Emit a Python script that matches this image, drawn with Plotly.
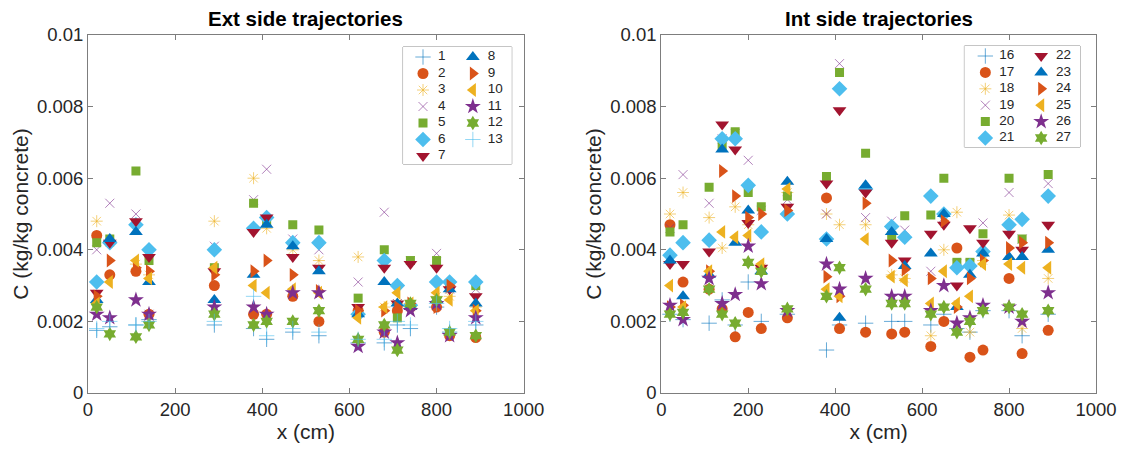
import plotly.graph_objects as go

# ---------------------------------------------------------------- data
# measurement positions along the element (cm)
x_ext = [20, 50, 110, 140, 290, 380, 410, 470, 530, 620, 680, 710, 740, 800, 830, 890]
x_int = [20, 50, 110, 140, 170, 200, 230, 290, 380, 410, 470, 530, 560, 620, 650,
         680, 710, 740, 800, 830, 890]

# chloride content, kg/kg concrete -- exterior side trajectories 1..13
ext_1 = [0.00175, 0.00185, 0.0019, 0.00205, 0.0019, 0.0018, 0.0015, 0.0017, 0.0016, 0.0014, 0.0014, 0.0019, 0.0018, 0.0024, 0.0017, 0.0019]
ext_2 = [0.0044, 0.0033, 0.0034, 0.0022, 0.0030, 0.0022, 0.0022, 0.0027, 0.0020, 0.0023, 0.0017, 0.0023, 0.0024, 0.0024, 0.0016, 0.00155]
ext_3 = [0.0048, 0.0042, 0.0036, 0.0033, 0.0048, 0.0060, 0.0046, 0.0040, 0.0037, 0.0038, 0.0024, 0.0025, 0.0024, 0.0027, 0.0027, 0.0024]
ext_4 = [0.0040, 0.0053, 0.0050, 0.0022, 0.0041, 0.0054, 0.00625, 0.0043, 0.0040, 0.0031, 0.00505, 0.0025, 0.0037, 0.0039, 0.0029, 0.0029]
ext_5 = [0.0042, 0.0043, 0.0062, 0.0037, 0.0035, 0.0053, 0.0048, 0.0047, 0.00455, 0.00265, 0.0040, 0.0021, 0.0037, 0.0037, 0.00305, 0.0030]
ext_6 = [0.0031, 0.0042, 0.0047, 0.0040, 0.0040, 0.0046, 0.0049, 0.0042, 0.0042, 0.0022, 0.0037, 0.0030, 0.00245, 0.0031, 0.0031, 0.0031]
ext_7 = [0.0028, 0.0042, 0.0048, 0.0038, 0.0034, 0.0045, 0.0049, 0.0038, 0.0035, 0.0024, 0.0035, 0.0025, 0.0036, 0.0035, 0.0029, 0.0027]
ext_8 = [0.0026, 0.0043, 0.0045, 0.0031, 0.0026, 0.0033, 0.0047, 0.0041, 0.0034, 0.0022, 0.0031, 0.0025, 0.0024, 0.0026, 0.0029, 0.0025]
ext_9 = [0.0027, 0.0037, 0.0035, 0.0034, 0.0033, 0.0034, 0.0037, 0.0033, 0.00285, 0.0023, 0.0023, 0.0024, 0.0025, 0.0024, 0.0030, 0.0023]
ext_10 = [0.0025, 0.0031, 0.0037, 0.0032, 0.0035, 0.0030, 0.0028, 0.0029, 0.0028, 0.0021, 0.0024, 0.0028, 0.0025, 0.0028, 0.0026, 0.0023]
ext_11 = [0.0022, 0.0021, 0.0026, 0.0022, 0.0024, 0.0024, 0.0022, 0.0028, 0.0028, 0.0013, 0.0017, 0.0014, 0.0023, 0.0025, 0.0016, 0.0021]
ext_12 = [0.0024, 0.00165, 0.00157, 0.0019, 0.0022, 0.0019, 0.0020, 0.0020, 0.0023, 0.0015, 0.0019, 0.0012, 0.0025, 0.0026, 0.0017, 0.0016]
ext_13 = [0.0018, 0.0020, 0.0019, 0.0020, 0.0020, 0.0027, 0.0016, 0.0018, 0.0017, 0.0015, 0.0015, 0.0020, 0.0019, 0.0025, 0.0018, 0.0020]

# chloride content, kg/kg concrete -- interior side trajectories 16..27
int_16 = [0.0022, 0.00205, 0.00195, 0.0026, 0.0019, 0.0031, 0.0020, 0.0022, 0.0012, 0.0019, 0.00195, 0.0020, 0.0020, 0.0019, 0.0022, 0.0018, 0.0017, 0.0023, 0.0023, 0.0016, 0.0022]
int_17 = [0.0047, 0.0031, 0.0029, 0.00235, 0.00157, 0.00225, 0.0018, 0.0021, 0.00545, 0.0018, 0.0017, 0.00165, 0.0017, 0.0013, 0.0020, 0.00405, 0.0010, 0.0012, 0.0032, 0.0011, 0.00175]
int_18 = [0.0050, 0.0056, 0.0049, 0.00405, 0.0052, 0.0047, 0.0035, 0.0056, 0.0050, 0.0047, 0.0047, 0.0033, 0.0032, 0.0016, 0.0040, 0.00505, 0.0017, 0.0037, 0.00497, 0.0018, 0.0032]
int_19 = [0.0046, 0.0061, 0.0053, 0.0071, 0.00725, 0.0065, 0.0051, 0.0054, 0.0050, 0.0092, 0.0049, 0.0048, 0.00455, 0.0034, 0.0049, 0.0036, 0.0036, 0.00475, 0.0056, 0.0043, 0.00585]
int_20 = [0.0045, 0.0047, 0.00575, 0.0069, 0.0073, 0.0056, 0.0052, 0.0055, 0.00605, 0.00895, 0.0067, 0.0044, 0.00495, 0.00497, 0.0060, 0.00365, 0.00365, 0.00445, 0.0060, 0.0043, 0.0061]
int_21 = [0.00385, 0.0042, 0.00427, 0.0071, 0.0071, 0.0058, 0.0045, 0.0050, 0.0043, 0.0085, 0.0057, 0.00465, 0.00435, 0.0055, 0.0050, 0.0035, 0.00355, 0.00395, 0.0047, 0.00485, 0.0055]
int_22 = [0.0036, 0.0036, 0.00395, 0.0075, 0.0068, 0.00475, 0.0035, 0.0052, 0.00585, 0.0079, 0.0056, 0.0042, 0.0037, 0.00445, 0.0047, 0.0030, 0.0046, 0.0042, 0.00445, 0.0040, 0.0047]
int_23 = [0.0037, 0.0027, 0.0033, 0.0068, 0.0042, 0.0051, 0.0034, 0.0059, 0.0043, 0.0021, 0.0058, 0.0045, 0.00355, 0.0039, 0.0050, 0.0024, 0.0033, 0.0039, 0.0038, 0.0038, 0.0040]
int_24 = [0.0024, 0.00245, 0.0034, 0.0062, 0.0055, 0.0049, 0.0050, 0.0051, 0.00325, 0.0027, 0.0053, 0.0037, 0.00345, 0.0032, 0.0048, 0.0024, 0.0032, 0.0037, 0.00405, 0.0042, 0.0042]
int_25 = [0.0030, 0.0024, 0.0034, 0.0045, 0.00435, 0.0044, 0.0036, 0.0057, 0.0029, 0.0027, 0.0043, 0.00325, 0.00315, 0.0025, 0.0034, 0.0025, 0.0027, 0.0036, 0.0036, 0.0035, 0.0035]
int_26 = [0.00245, 0.00205, 0.0032, 0.0025, 0.00275, 0.0041, 0.00305, 0.0023, 0.0036, 0.0029, 0.0032, 0.0027, 0.0027, 0.0023, 0.0030, 0.00195, 0.0021, 0.00245, 0.0024, 0.0020, 0.0028]
int_27 = [0.0022, 0.00225, 0.0029, 0.0022, 0.00195, 0.00365, 0.0034, 0.00235, 0.0027, 0.0035, 0.0029, 0.0025, 0.0025, 0.0022, 0.0024, 0.0017, 0.0020, 0.0023, 0.0024, 0.0022, 0.0023]

ext_labels = [str(i) for i in range(1, 14)]
int_labels = [str(i) for i in range(16, 28)]
ext_series = [ext_1, ext_2, ext_3, ext_4, ext_5, ext_6, ext_7, ext_8, ext_9, ext_10, ext_11, ext_12, ext_13]
int_series = [int_16, int_17, int_18, int_19, int_20, int_21, int_22, int_23, int_24, int_25, int_26, int_27]

y_ticks = [0, 0.002, 0.004, 0.006, 0.008, 0.01]
y_tick_text = ["0", "0.002", "0.004", "0.006", "0.008", "0.01"]
x_ticks = [0, 200, 400, 600, 800, 1000]

# ---------------------------------------------------------------- styling
COLORS = ["#0072BD", "#D95319", "#EDB120", "#7E2F8E", "#77AC30", "#4DBEEE", "#A2142F"]
# (plotly symbol, size, thin line-style marker?)
MARKERS = [
    ("cross-thin-open", 11, True),
    ("circle", 11, False),
    ("asterisk-open", 10, True),
    ("x-thin-open", 9, True),
    ("square", 9, False),
    ("diamond", 12, False),
    ("triangle-down", 12, False),
    ("triangle-up", 12, False),
    ("triangle-right", 12, False),
    ("triangle-left", 12, False),
    ("star", 12, False),
    ("hexagram", 11, False),
]


def marker_style(i):
    sym, size, thin = MARKERS[i % len(MARKERS)]
    color = COLORS[i % len(COLORS)]
    if thin:
        return dict(symbol=sym, size=size, color=color, opacity=0.6,
                    line=dict(color=color, width=1))
    return dict(symbol=sym, size=size, color=color, line=dict(width=0))


FONT = "Liberation Sans, Arial, Helvetica, sans-serif"
AXIS_GREY = "#7d7d7d"
TEXT = "#262626"

W, H = 1129, 450
ML, MR, MT, MB = 88, 30, 35, 57
PW = W - ML - MR
PH = H - MT - MB


def px_x(p):
    return (p - ML) / PW


def px_y(p):
    return 1 - (p - MT) / PH


fig = go.Figure()

# ---------------------------------------------------------------- scatter panels
for i, (lab, ys) in enumerate(zip(ext_labels, ext_series)):
    fig.add_trace(go.Scatter(x=x_ext, y=ys, mode="markers", name=lab,
                             marker=marker_style(i), xaxis="x", yaxis="y",
                             showlegend=False))
for i, (lab, ys) in enumerate(zip(int_labels, int_series)):
    fig.add_trace(go.Scatter(x=x_int, y=ys, mode="markers", name=lab,
                             marker=marker_style(i), xaxis="x2", yaxis="y2",
                             showlegend=False))

# ---------------------------------------------------------------- legend boxes
# each key is drawn on its own small axis measured in pixels from its top-left corner
def add_key(labels, xa, ya, n_rows, col_marker_x, col_text_x, row0, row_step):
    for i, lab in enumerate(labels):
        col, row = divmod(i, n_rows)
        yy = row0 + row * row_step
        fig.add_trace(go.Scatter(x=[col_marker_x[col]], y=[yy], mode="markers",
                                 marker=marker_style(i), xaxis=xa, yaxis=ya,
                                 showlegend=False, hoverinfo="skip"))
        fig.add_trace(go.Scatter(x=[col_text_x[col]], y=[yy], mode="text", text=[lab],
                                 textposition="middle right",
                                 textfont=dict(family=FONT, size=13.5, color=TEXT),
                                 xaxis=xa, yaxis=ya, showlegend=False, hoverinfo="skip"))


ext_box = (404, 513, 47, 164)
int_box = (967, 1083, 46, 147)

add_key(ext_labels, "x3", "y3", 7, [20, 70], [35, 85], 10, 16.5)
add_key(int_labels, "x4", "y4", 6, [21, 77], [35, 92], 10, 16.4)

hidden = dict(visible=False, showgrid=False, zeroline=False, fixedrange=True)
fig.update_layout(
    xaxis3=dict(domain=[px_x(ext_box[0]), px_x(ext_box[1])], range=[0, ext_box[1] - ext_box[0]], anchor="y3", **hidden),
    yaxis3=dict(domain=[px_y(ext_box[3]), px_y(ext_box[2])], range=[ext_box[3] - ext_box[2], 0], anchor="x3", **hidden),
    xaxis4=dict(domain=[px_x(int_box[0]), px_x(int_box[1])], range=[0, int_box[1] - int_box[0]], anchor="y4", **hidden),
    yaxis4=dict(domain=[px_y(int_box[3]), px_y(int_box[2])], range=[int_box[3] - int_box[2], 0], anchor="x4", **hidden),
)
for xa, ya in (("x3", "y3"), ("x4", "y4")):
    fig.add_shape(type="rect", xref=f"{xa} domain", yref=f"{ya} domain",
                  x0=0, x1=1, y0=0, y1=1, line=dict(color="#8a8a8a", width=1),
                  fillcolor="white", layer="below")

# ---------------------------------------------------------------- axes
common_x = dict(range=[0, 1000], tickvals=x_ticks, ticks="inside", ticklen=5,
                tickcolor=AXIS_GREY, showline=True, linecolor=AXIS_GREY, linewidth=1,
                mirror="allticks", showgrid=False, zeroline=False,
                tickfont=dict(family=FONT, size=18.5, color=TEXT),
                title=dict(text="x (cm)", font=dict(family=FONT, size=21, color=TEXT), standoff=2))
common_y = dict(range=[0, 0.01], tickvals=y_ticks, ticktext=y_tick_text, ticks="inside",
                ticklen=5, tickcolor=AXIS_GREY, showline=True, linecolor=AXIS_GREY,
                linewidth=1, mirror="allticks", showgrid=False, zeroline=False,
                tickfont=dict(family=FONT, size=18.5, color=TEXT),
                title=dict(text="C (kg/kg concrete)", font=dict(family=FONT, size=21, color=TEXT), standoff=2))

left_dom = [0, px_x(525)]
right_dom = [px_x(663), 1]
fig.update_layout(
    xaxis=dict(domain=left_dom, anchor="y", **common_x),
    yaxis=dict(domain=[0, 1], anchor="x", **common_y),
    xaxis2=dict(domain=right_dom, anchor="y2", **common_x),
    yaxis2=dict(domain=[0, 1], anchor="x2", **common_y),
)

# panel titles
for dom, txt in ((left_dom, "Ext side trajectories"), (right_dom, "Int side trajectories")):
    fig.add_annotation(text=f"<b>{txt}</b>", x=(dom[0] + dom[1]) / 2, y=px_y(18),
                       xref="paper", yref="paper", showarrow=False,
                       font=dict(family=FONT, size=20.5, color="#000000"),
                       xanchor="center", yanchor="middle")

fig.update_layout(
    width=W, height=H,
    margin=dict(l=ML, r=MR, t=MT, b=MB),
    paper_bgcolor="white", plot_bgcolor="white",
    showlegend=False,
)

fig.write_html("out.html")
